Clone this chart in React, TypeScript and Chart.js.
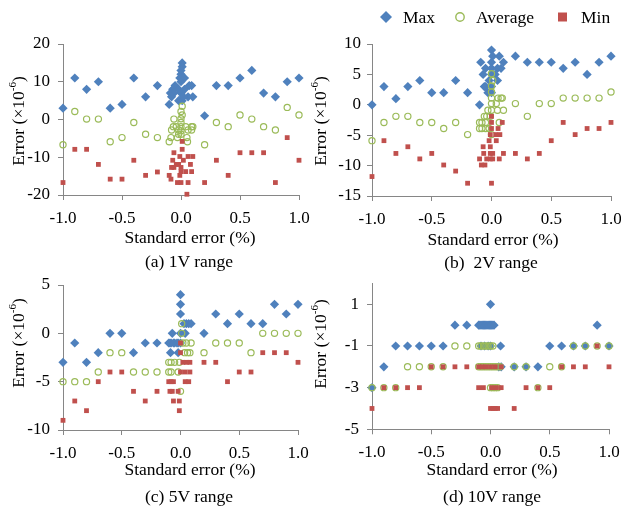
import React, { useEffect, useRef } from 'react';
import { Chart, registerables } from 'chart.js';

Chart.register(...registerables);

type P = [number, number];

// ---------- DATA ----------
const seriesNames = ['Max', 'Average', 'Min'];
const captions = ['(a) 1V range', '(b)  2V range', '(c) 5V range', '(d) 10V range'];
const xTitleText = 'Standard error (%)';
const yTitleMain = 'Error (×10';
const yTitleSup = '-6';
const yTitleEnd = ')';

const xTicks = [-1, -0.5, 0, 0.5, 1];
const aYTicks = [-20, -10, 0, 10, 20];
const bYTicks = [-15, -10, -5, 0, 5, 10];
const cYTicks = [-10, -5, 0, 5];
const dYTicks = [-5, -3, -1, 1];
const aYRange = [-20, 20];
const bYRange = [-15, 10];
const cYRange = [-10, 5];
const dYRange = [-5, 2];

// (a) 1V range
const aMax: P[] = [
  [-1.0, 3], [-0.9, 11], [-0.8, 8], [-0.7, 10], [-0.6, 3], [-0.5, 4], [-0.4, 11], [-0.3, 6], [-0.2, 9], [-0.1, 4],
  [0.01, 15], [0.01, 14], [0.0, 13], [0.0, 12], [-0.01, 11], [0.01, 11], [0.03, 11], [0.0, 10], [-0.05, 9], [0.07, 9],
  [0.09, 9], [-0.07, 8], [-0.02, 8], [0.03, 8], [-0.09, 7], [-0.06, 7], [0.0, 7], [-0.08, 6], [0.06, 6], [0.1, 6],
  [-0.02, 5], [0.01, 5], [0.02, 6],
  [0.2, 1], [0.3, 9], [0.4, 9], [0.5, 11], [0.6, 13], [0.7, 7], [0.8, 6], [0.9, 10], [1.0, 11],
];
const aAvg: P[] = [
  [-1.0, -6.7], [-0.9, 2.1], [-0.8, 0.1], [-0.7, 0.1], [-0.6, -5.9], [-0.5, -4.8], [-0.4, -0.8], [-0.3, -3.9], [-0.2, -4.8], [-0.1, -5.9],
  [0.01, 3.5], [0.0, 2.1], [0.01, 1.2], [0.0, 0.2], [-0.06, 0.1], [0.0, -0.8], [-0.065, -1.9], [-0.04, -1.9], [0.0, -1.9], [0.04, -1.9],
  [0.09, -1.9], [0.1, -1.9], [-0.08, -2.8], [-0.02, -2.8], [0.06, -2.8], [0.09, -2.8], [-0.02, -3.9], [0.0, -3.9], [-0.085, -4.8],
  [-0.03, -4.8], [0.05, -4.8], [0.055, -5.9], [0.0, -3.0],
  [0.2, -6.7], [0.3, -0.8], [0.4, -1.9], [0.5, 1.2], [0.6, 0.1], [0.7, -1.9], [0.8, -2.8], [0.9, 3.2], [1.0, 1.2],
];
const aMin: P[] = [
  [-1.0, -16.7], [-0.9, -7.9], [-0.8, -7.9], [-0.7, -11.9], [-0.6, -15.8], [-0.5, -15.8], [-0.4, -10.8], [-0.3, -14.8], [-0.2, -13.9], [-0.1, -14.8],
  [0.01, -5.8], [0.01, -7.9], [-0.06, -8.8], [-0.01, -9.8], [0.02, -10.8], [-0.07, -10.8], [0.06, -9.8], [0.1, -9.8], [-0.04, -11.9],
  [-0.02, -11.9], [0.08, -11.9], [0.0, -12.7], [-0.06, -12.7], [-0.08, -12.7], [0.04, -13.8], [0.09, -13.8], [0.0, -13.8],
  [-0.085, -15.8], [-0.01, -14.8], [-0.03, -16.7], [0.0, -16.7], [0.06, -16.7], [0.05, -19.8],
  [0.2, -16.7], [0.3, -10.8], [0.4, -14.8], [0.5, -8.8], [0.6, -8.8], [0.7, -8.8], [0.8, -16.7], [0.9, -4.8], [1.0, -10.8],
];

// (b) 2V range
const bMax: P[] = [
  [-1.0, 0], [-0.9, 3], [-0.8, 1], [-0.7, 3], [-0.6, 4], [-0.5, 2], [-0.4, 2], [-0.3, 4], [-0.2, 2], [-0.1, 0],
  [0.0, 9], [0.01, 8], [0.065, 8], [0.0, 7], [-0.09, 7], [0.1, 7], [-0.05, 6], [0.0, 6], [0.05, 6], [0.08, 6],
  [-0.07, 5], [0.03, 5], [0.0, 5], [-0.02, 4], [0.05, 4], [-0.06, 3], [-0.05, 3], [0.0, 3], [-0.03, 2], [0.0, 2],
  [0.2, 8], [0.3, 7], [0.4, 7], [0.5, 7], [0.6, 6], [0.7, 7], [0.8, 5], [0.9, 7], [1.0, 8],
];
const bAvg: P[] = [
  [-1.0, -5.9], [-0.9, -2.9], [-0.8, -1.9], [-0.7, -1.9], [-0.6, -2.9], [-0.5, -2.9], [-0.4, -3.9], [-0.3, -2.9], [-0.2, -4.9], [-0.1, -2.9],
  [0.0, 5.1], [0.01, 4.0], [0.0, 3.1], [0.0, 2.1], [0.0, 1.1], [0.055, 1.1], [0.08, 1.1], [0.09, 1.1], [0.0, 0.2], [0.04, 0.2],
  [0.05, -0.9], [0.1, -0.9], [-0.03, -0.9], [0.0, -0.9], [-0.06, -1.9], [-0.04, -1.9], [-0.01, -1.9], [-0.08, -2.9], [-0.05, -2.9],
  [0.065, -2.9], [-0.1, -3.9], [-0.08, -3.9], [-0.05, -3.9], [-0.02, -3.9], [0.0, -4.9],
  [0.2, 0.2], [0.3, -1.9], [0.4, 0.2], [0.5, 0.2], [0.6, 1.1], [0.7, 1.1], [0.8, 1.1], [0.9, 1.1], [1.0, 2.1],
];
const bMin: P[] = [
  [-1.0, -11.8], [-0.9, -5.9], [-0.8, -8.0], [-0.7, -6.9], [-0.6, -8.9], [-0.5, -8.0], [-0.4, -9.9], [-0.3, -10.9], [-0.2, -12.9], [-0.1, -8.9],
  [0.0, -1.9], [0.0, -2.9], [0.09, -2.9], [0.0, -3.9], [0.055, -3.9], [-0.01, -4.9], [0.035, -4.9], [0.07, -4.9], [-0.02, -5.9],
  [0.04, -5.9], [-0.01, -6.9], [-0.07, -6.9], [-0.065, -8.0], [-0.01, -8.0], [0.01, -8.0], [0.1, -8.0], [-0.04, -8.9], [-0.01, -8.9],
  [0.01, -8.9], [0.065, -8.9], [-0.085, -9.9], [-0.055, -9.9], [0.0, -12.9],
  [0.2, -8.0], [0.3, -8.9], [0.4, -8.0], [0.5, -5.9], [0.6, -2.9], [0.7, -4.9], [0.8, -3.9], [0.9, -3.9], [1.0, -2.9],
];

// (c) 5V range
const cMax: P[] = [
  [-1.0, -3], [-0.9, -1], [-0.8, -3], [-0.7, -2], [-0.6, 0], [-0.5, 0], [-0.4, -2], [-0.3, -1], [-0.2, -1], [-0.1, -1],
  [0.0, 4], [0.0, 3], [0.0, 2], [0.05, 1], [0.07, 1], [0.09, 1], [0.03, 1], [-0.07, 0], [0.04, 0], [0.0, 0],
  [-0.09, -1], [-0.08, -1], [-0.06, -1], [-0.05, -1], [-0.03, -1], [-0.02, -1], [0.0, -1], [-0.085, -2], [-0.02, -2],
  [0.2, 0], [0.3, 2], [0.4, 1], [0.5, 2], [0.6, 1], [0.7, 1], [0.8, 3], [0.9, 2], [1.0, 3],
];
const cAvg: P[] = [
  [-1.0, -5], [-0.9, -5], [-0.8, -5], [-0.7, -4], [-0.6, -2], [-0.5, -2], [-0.4, -4], [-0.3, -4], [-0.2, -4], [-0.1, -3],
  [0.01, 1], [0.01, 0], [0.02, -1], [0.05, -1], [0.09, -1], [0.035, -2], [0.06, -2], [0.08, -2], [-0.08, -3], [-0.05, -3],
  [-0.01, -3], [-0.1, -4], [-0.08, -4], [-0.02, -4], [0.0, -6],
  [0.2, -2], [0.3, -1], [0.4, -1], [0.5, -1], [0.6, -2], [0.7, 0], [0.8, 0], [0.9, 0], [1.0, 0],
];
const cMin: P[] = [
  [-1.0, -9], [-0.9, -7], [-0.8, -8], [-0.7, -5], [-0.6, -4], [-0.5, -4], [-0.4, -6], [-0.3, -7], [-0.2, -6], [-0.1, -5],
  [0.0, -1], [0.0, -2], [0.02, -3], [0.05, -3], [0.08, -3], [0.0, -4], [0.04, -4], [0.08, -4], [-0.08, -5], [-0.06, -5],
  [0.04, -5], [0.07, -5], [-0.09, -6], [-0.07, -6], [-0.02, -6], [-0.06, -7], [-0.01, -7], [-0.01, -8],
  [0.2, -3], [0.3, -3], [0.4, -5], [0.5, -4], [0.6, -4], [0.7, -2], [0.8, -2], [0.9, -2], [1.0, -3],
];

// (d) 10V range
const dMax: P[] = [
  [-1.0, -3], [-0.9, -2], [-0.8, -1], [-0.7, -1], [-0.6, -1], [-0.5, -1], [-0.4, -1], [-0.3, 0], [-0.2, 0],
  [-0.1, 0], [-0.09, 0], [-0.08, 0], [-0.07, 0], [-0.06, 0], [-0.05, 0], [-0.04, 0], [-0.03, 0], [-0.02, 0], [-0.01, 0],
  [0.0, 0], [0.01, 0], [0.02, 0], [0.03, 0], [0.0, 1], [-0.08, -1], [-0.05, -1], [-0.02, -1], [0.0, -1], [0.085, -1],
  [0.07, -2], [0.09, -2],
  [0.2, -2], [0.3, -2], [0.4, -2], [0.5, -1], [0.6, -1], [0.7, -1], [0.8, -1], [0.9, 0], [1.0, -1],
];
const dAvg: P[] = [
  [-1.0, -3], [-0.9, -3], [-0.8, -3], [-0.7, -2], [-0.6, -2], [-0.5, -2], [-0.4, -2], [-0.3, -1], [-0.2, -1],
  [-0.1, -1], [-0.08, -1], [-0.06, -1], [-0.04, -1], [-0.02, -1], [0.0, -1], [0.02, -1],
  [-0.1, -2], [-0.08, -2], [-0.06, -2], [-0.04, -2], [-0.02, -2], [0.0, -2], [0.02, -2], [0.04, -2], [0.06, -2], [0.08, -2],
  [0.0, -3], [0.02, -3], [0.04, -3], [0.06, -3],
  [0.2, -2], [0.3, -2], [0.4, -3], [0.5, -2], [0.6, -2], [0.7, -1], [0.8, -1], [0.9, -1], [1.0, -1],
];
const dMin: P[] = [
  [-1.0, -4], [-0.9, -3], [-0.8, -3], [-0.7, -3], [-0.6, -3], [-0.5, -2], [-0.4, -2], [-0.3, -2], [-0.2, -2],
  [-0.1, -2], [-0.07, -2], [-0.04, -2], [0.0, -2], [0.04, -2], [0.09, -2],
  [-0.1, -3], [-0.06, -3], [0.01, -3], [0.05, -3], [0.09, -3],
  [0.0, -4], [0.02, -4], [0.04, -4], [0.06, -4],
  [0.2, -4], [0.3, -3], [0.4, -3], [0.5, -3], [0.6, -2], [0.7, -2], [0.8, -2], [0.9, -1], [1.0, -2],
];

// ---------- STYLE / LAYOUT ----------
const FONT = '"Liberation Serif", "Times New Roman", Times, serif';
const AXIS_COLOR = '#868686';
const TEXT_COLOR = '#000000';
const SERIES_STYLE = [
  { pointStyle: 'rectRot', pointRadius: 4.6, backgroundColor: '#4F81BD', borderColor: '#4F81BD', borderWidth: 0, order: 3 },
  { pointStyle: 'circle', pointRadius: 3.1, backgroundColor: 'rgba(0,0,0,0)', borderColor: '#9BBB59', borderWidth: 1.2, order: 2 },
  { pointStyle: 'rect', pointRadius: 3.4, backgroundColor: '#C0504D', borderColor: '#C0504D', borderWidth: 0, order: 1 },
];

type PanelCfg = {
  left: number; top: number; w: number; h: number;
  pad: { left: number; right: number; top: number; bottom: number };
  yw: number; xh: number;
  yRange: number[]; yTicks: number[];
  series: P[][];
  xTitle: { x: number; y: number };
  yTitle: { x: number; y: number };
  yPad: number;
  legend?: boolean;
};

const panels: PanelCfg[] = [
  {
    left: 0, top: 0, w: 330, h: 250, pad: { left: 0, right: 31, top: 44, bottom: 15 }, yw: 63, xh: 40,
    yRange: aYRange, yTicks: aYTicks, series: [aMax, aAvg, aMin],
    xTitle: { x: 190, y: 238 }, yTitle: { x: 19.5, y: 121 }, yPad: 8,
  },
  {
    left: 310, top: 0, w: 330, h: 250, pad: { left: 0, right: 29, top: 44, bottom: 14 }, yw: 62, xh: 40,
    yRange: bYRange, yTicks: bYTicks, series: [bMax, bAvg, bMin],
    xTitle: { x: 183, y: 240 }, yTitle: { x: 11.5, y: 121 }, yPad: 6, legend: true,
  },
  {
    left: 0, top: 250, w: 330, h: 258, pad: { left: 0, right: 32, top: 35, bottom: 38 }, yw: 63, xh: 40,
    yRange: cYRange, yTicks: cYTicks, series: [cMax, cAvg, cMin],
    xTitle: { x: 190, y: 220 }, yTitle: { x: 19.5, y: 93 }, yPad: 8,
  },
  {
    left: 310, top: 250, w: 330, h: 258, pad: { left: 0, right: 31, top: 33.5, bottom: 38.7 }, yw: 62, xh: 40,
    yRange: dYRange, yTicks: dYTicks, series: [dMax, dAvg, dMin],
    xTitle: { x: 182, y: 220 }, yTitle: { x: 11, y: 94 }, yPad: 8,
  },
];

const captionPos = [
  { x: 189, y: 261 },
  { x: 491, y: 262 },
  { x: 189, y: 496 },
  { x: 492, y: 496 },
];

const legendPos = { y: 17, items: [{ mx: 76, tx: 93 }, { mx: 150, tx: 166 }, { mx: 252.5, tx: 271 }] };

function drawMarker(ctx: CanvasRenderingContext2D, idx: number, x: number, y: number, scale: number) {
  const st = SERIES_STYLE[idx];
  ctx.save();
  ctx.beginPath();
  if (idx === 0) {
    const r = 6 * scale;
    ctx.moveTo(x, y - r); ctx.lineTo(x + r, y); ctx.lineTo(x, y + r); ctx.lineTo(x - r, y); ctx.closePath();
    ctx.fillStyle = st.backgroundColor; ctx.fill();
  } else if (idx === 1) {
    ctx.arc(x, y, 4.2 * scale, 0, Math.PI * 2);
    ctx.strokeStyle = st.borderColor; ctx.lineWidth = 1.4; ctx.stroke();
  } else {
    const s = 4.5 * scale;
    ctx.rect(x - s, y - s, 2 * s, 2 * s);
    ctx.fillStyle = st.backgroundColor; ctx.fill();
  }
  ctx.restore();
}

function makeTextPlugin(cfg: PanelCfg) {
  return {
    id: 'panelText',
    afterDraw(chart: any) {
      const ctx: CanvasRenderingContext2D = chart.ctx;
      ctx.save();
      ctx.fillStyle = TEXT_COLOR;
      ctx.textBaseline = 'middle';
      // x title
      ctx.font = `17.5px ${FONT}`;
      ctx.textAlign = 'center';
      ctx.fillText(xTitleText, cfg.xTitle.x, cfg.xTitle.y);
      // y title, rotated, with superscript
      ctx.translate(cfg.yTitle.x, cfg.yTitle.y);
      ctx.rotate(-Math.PI / 2);
      ctx.textAlign = 'left';
      const mainFont = `17.5px ${FONT}`;
      const supFont = `11px ${FONT}`;
      ctx.font = mainFont;
      const w1 = ctx.measureText(yTitleMain).width;
      const w3 = ctx.measureText(yTitleEnd).width;
      ctx.font = supFont;
      const w2 = ctx.measureText(yTitleSup).width;
      let sx = -(w1 + w2 + w3) / 2;
      ctx.font = mainFont;
      ctx.fillText(yTitleMain, sx, 0);
      sx += w1;
      ctx.font = supFont;
      ctx.fillText(yTitleSup, sx, -6);
      sx += w2;
      ctx.font = mainFont;
      ctx.fillText(yTitleEnd, sx, 0);
      ctx.restore();

      if (cfg.legend) {
        ctx.save();
        ctx.font = `17.5px ${FONT}`;
        ctx.fillStyle = TEXT_COLOR;
        ctx.textBaseline = 'middle';
        ctx.textAlign = 'left';
        legendPos.items.forEach((it, i) => {
          drawMarker(ctx, i, it.mx, legendPos.y, 1);
          ctx.fillText(seriesNames[i], it.tx, legendPos.y + 1);
        });
        ctx.restore();
      }
    },
  };
}

function Panel({ cfg }: { cfg: PanelCfg }) {
  const ref = useRef<HTMLCanvasElement | null>(null);
  useEffect(() => {
    if (!ref.current) return;
    const tickFont = { family: FONT, size: 17 };
    const chart = new Chart(ref.current, {
      type: 'scatter',
      data: {
        datasets: cfg.series.map((pts, i) => ({
          label: seriesNames[i],
          data: pts.map(([x, y]) => ({ x, y })),
          ...SERIES_STYLE[i],
          pointHoverRadius: SERIES_STYLE[i].pointRadius,
          clip: false,
        })) as any,
      },
      options: {
        animation: false,
        responsive: false,
        devicePixelRatio: 1,
        events: [],
        layout: { padding: cfg.pad, autoPadding: false },
        plugins: { legend: { display: false }, tooltip: { enabled: false }, title: { display: false } },
        scales: {
          x: {
            type: 'linear',
            min: -1,
            max: 1,
            afterBuildTicks: (s: any) => { s.ticks = xTicks.map((v) => ({ value: v })); },
            afterFit: (s: any) => { s.height = cfg.xh; },
            ticks: {
              font: tickFont, color: TEXT_COLOR, padding: 8, autoSkip: false, maxRotation: 0,
              callback: (v: any) => Number(v).toFixed(1),
            },
            grid: { drawOnChartArea: false, drawTicks: true, tickLength: 5, color: AXIS_COLOR, lineWidth: 1 },
            border: { display: true, color: AXIS_COLOR, width: 1 },
          },
          y: {
            type: 'linear',
            min: cfg.yRange[0],
            max: cfg.yRange[1],
            afterBuildTicks: (s: any) => { s.ticks = cfg.yTicks.map((v) => ({ value: v })); },
            afterFit: (s: any) => { s.width = cfg.yw; },
            ticks: {
              font: tickFont, color: TEXT_COLOR, padding: cfg.yPad, autoSkip: false,
              callback: (v: any) => String(v),
            },
            grid: { drawOnChartArea: false, drawTicks: true, tickLength: 5, color: AXIS_COLOR, lineWidth: 1 },
            border: { display: true, color: AXIS_COLOR, width: 1 },
          },
        },
      } as any,
      plugins: [makeTextPlugin(cfg)],
    });
    return () => chart.destroy();
  }, [cfg]);
  return (
    <canvas
      ref={ref}
      width={cfg.w}
      height={cfg.h}
      style={{ position: 'absolute', left: cfg.left, top: cfg.top, width: cfg.w, height: cfg.h }}
    />
  );
}

export default function App() {
  return (
    <div
      style={{
        position: 'fixed', left: 0, top: 0, width: 621, height: 508, overflow: 'hidden', background: '#ffffff',
      }}
    >
      {panels.map((p, i) => (
        <Panel key={i} cfg={p} />
      ))}
      {captions.map((c, i) => (
        <div
          key={'cap' + i}
          style={{
            position: 'absolute', left: captionPos[i].x - 100, top: captionPos[i].y - 10, width: 200, height: 20,
            lineHeight: '20px', textAlign: 'center', whiteSpace: 'pre', fontFamily: FONT, fontSize: '17.5px', color: TEXT_COLOR,
          }}
        >
          {c}
        </div>
      ))}
    </div>
  );
}
